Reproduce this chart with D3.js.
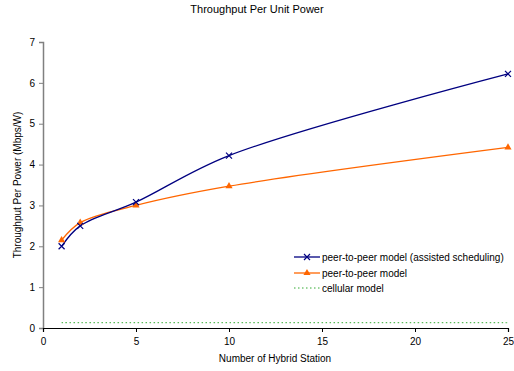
<!DOCTYPE html>
<html><head><meta charset="utf-8">
<script src="https://cdn.jsdelivr.net/npm/d3@7"></script>
<style>body{margin:0;background:#fff;}svg{display:block;font-family:"Liberation Sans",Arial,sans-serif;}</style>
</head><body>
<svg id="c" width="514" height="371"></svg>
<script>
const xValues = [1, 2, 5, 10, 25];
const assisted = [2.0, 2.5, 3.08, 4.22, 6.22];
const p2p = [2.15, 2.58, 3.0, 3.47, 4.42];
const cellular = [0.13, 0.13, 0.13, 0.13, 0.13];
const xTicks = [0, 5, 10, 15, 20, 25];
const yTicks = [0, 1, 2, 3, 4, 5, 6, 7];
const seriesNames = ["peer-to-peer model (assisted scheduling)", "peer-to-peer model", "cellular model"];

const svg = d3.select("#c");
const x = d3.scaleLinear().domain([0, 25]).range([43, 508]);
const y = d3.scaleLinear().domain([0, 7]).range([328, 42]);

svg.append("text").attr("x", 257).attr("y", 13).attr("text-anchor", "middle")
  .attr("font-size", 11).attr("fill", "#000").text("Throughput Per Unit Power");

const ya = svg.append("g").attr("transform", "translate(43,0)")
  .call(d3.axisLeft(y).tickValues(yTicks).tickFormat(d3.format("d")).tickSize(4).tickPadding(4));
ya.select(".domain").attr("stroke", "#808080").attr("stroke-width", 1.5);
ya.selectAll(".tick line").attr("stroke", "#808080");
ya.selectAll("text").attr("font-size", 10).attr("font-family", "Liberation Sans, Arial").attr("fill", "#000");

const xa = svg.append("g").attr("transform", "translate(0,328)")
  .call(d3.axisBottom(x).tickValues(xTicks).tickSize(4).tickPadding(6));
xa.select(".domain").attr("stroke", "#000").attr("stroke-width", 1.2);
xa.selectAll(".tick line").attr("stroke", "#000");
xa.selectAll("text").attr("font-size", 10).attr("font-family", "Liberation Sans, Arial").attr("fill", "#000");

svg.append("text").attr("x", 275).attr("y", 362).attr("text-anchor", "middle")
  .attr("font-size", 10).text("Number of Hybrid Station");
svg.append("text").attr("transform", "translate(21,185) rotate(-90)").attr("text-anchor", "middle")
  .attr("font-size", 10).text("Throughput Per Power (Mbps/W)");

const line = d3.line().x((d, i) => x(xValues[i])).y(d => y(d)).curve(d3.curveCatmullRom.alpha(0.5));

svg.append("path").datum(cellular).attr("d", line).attr("fill", "none")
  .attr("stroke", "#33aa33").attr("stroke-width", 1).attr("stroke-dasharray", "1.5,2.5");
svg.append("path").datum(p2p).attr("d", line).attr("fill", "none")
  .attr("stroke", "#ff6600").attr("stroke-width", 1.3);
svg.append("path").datum(assisted).attr("d", line).attr("fill", "none")
  .attr("stroke", "#000080").attr("stroke-width", 1.3);

const tri = d3.symbol().type(d3.symbolTriangle).size(22);
svg.selectAll(".tri").data(p2p).enter().append("path")
  .attr("transform", (d, i) => `translate(${x(xValues[i])},${y(d)})`)
  .attr("d", tri).attr("fill", "#ff6600");
function cross(g, cx, cy) {
  g.append("path").attr("d", `M${cx-3},${cy-3}L${cx+3},${cy+3}M${cx-3},${cy+3}L${cx+3},${cy-3}`)
    .attr("stroke", "#000080").attr("stroke-width", 1.2);
}
assisted.forEach((d, i) => cross(svg, x(xValues[i]), y(d)));

// legend
const lg = svg.append("g");
const ly = [257, 273, 288];
lg.append("line").attr("x1", 294).attr("x2", 320).attr("y1", ly[0]).attr("y2", ly[0]).attr("stroke", "#000080").attr("stroke-width", 1.3);
cross(lg, 307, ly[0]);
lg.append("line").attr("x1", 294).attr("x2", 320).attr("y1", ly[1]).attr("y2", ly[1]).attr("stroke", "#ff6600").attr("stroke-width", 1.3);
lg.append("path").attr("transform", `translate(307,${ly[1]})`).attr("d", tri).attr("fill", "#ff6600");
lg.append("line").attr("x1", 294).attr("x2", 320).attr("y1", ly[2]).attr("y2", ly[2]).attr("stroke", "#33aa33").attr("stroke-dasharray", "1.5,2.5");
seriesNames.forEach((n, i) => lg.append("text").attr("x", 322).attr("y", ly[i] + 3.5).attr("font-size", 10).text(n));
</script>
</body></html>
